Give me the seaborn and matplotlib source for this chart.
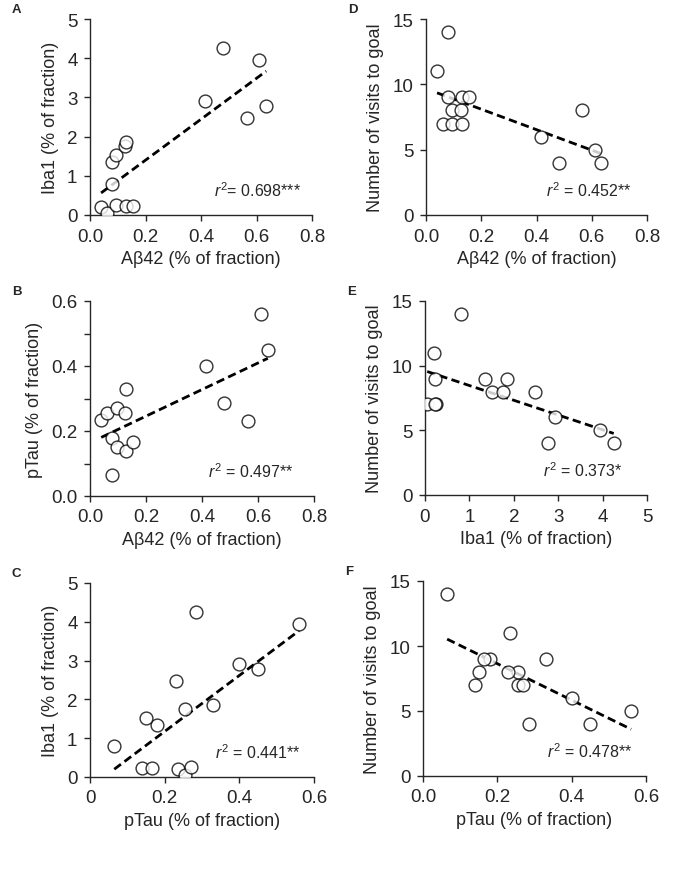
import numpy as np
import pandas as pd
import matplotlib
matplotlib.use("Agg")
import matplotlib.pyplot as plt
import seaborn as sns

# per-animal values (15 animals)
abeta42 = [0.040, 0.060, 0.080, 0.080, 0.095, 0.095, 0.125, 0.130, 0.130, 0.155,
           0.415, 0.480, 0.565, 0.610, 0.635]
iba1 = [0.20, 0.05, 0.80, 1.35, 1.52, 0.25, 1.76, 1.85, 0.23, 0.23,
        2.92, 4.25, 2.47, 3.95, 2.78]
ptau = [0.235, 0.255, 0.065, 0.180, 0.150, 0.270, 0.255, 0.330, 0.140, 0.165,
        0.400, 0.285, 0.230, 0.560, 0.450]
visits = [11, 7, 14, 9, 8, 7, 8, 9, 7, 9,
          6, 4, 8, 5, 4]

r2_labels = ["0.698***", "0.497**", "0.441**", "0.452**", "0.373*", "0.478**"]

df = pd.DataFrame({"abeta": abeta42, "iba1": iba1, "ptau": ptau, "visits": visits})

sns.set_style("ticks")
plt.rcParams["font.family"] = ["Liberation Sans", "DejaVu Sans"]
plt.rcParams["mathtext.fontset"] = "custom"
plt.rcParams["mathtext.rm"] = "Liberation Sans"
plt.rcParams["mathtext.it"] = "Liberation Sans:italic"

fig = plt.figure(figsize=(6.79, 8.70), dpi=100)
W, H = 679, 870


def add_ax(l, t, r, b):
    return fig.add_axes([l / W, 1 - b / H, (r - l) / W, (b - t) / H])


panels = [
    # letter, x, y, box(l,t,r,b), xlim, xticks, xlabels, ylim, yticks, ylabels, xlabel, ylabel, r2, r2 x
    ("A", "abeta", "iba1", (90, 20, 312, 216), (0, 0.8), np.arange(0, 0.81, 0.2),
     ["0.0", "0.2", "0.4", "0.6", "0.8"], (0, 5), np.arange(0, 6, 1), None,
     "Aβ42 (% of fraction)", "Iba1 (% of fraction)", "$r^2$= " + r2_labels[0], 0.95),
    ("B", "abeta", "ptau", (90, 302, 314, 497), (0, 0.8), np.arange(0, 0.81, 0.2),
     ["0.0", "0.2", "0.4", "0.6", "0.8"], (0, 0.6), np.arange(0, 0.61, 0.1),
     ["0.0", "", "0.2", "", "0.4", "", "0.6"],
     "Aβ42 (% of fraction)", "pTau (% of fraction)", "$r^2$ = " + r2_labels[1], 0.91),
    ("C", "ptau", "iba1", (90, 584, 314, 778), (0, 0.6), np.arange(0, 0.61, 0.2),
     ["0", "0.2", "0.4", "0.6"], (0, 5), np.arange(0, 6, 1), None,
     "pTau (% of fraction)", "Iba1 (% of fraction)", "$r^2$ = " + r2_labels[2], 0.94),
    ("D", "abeta", "visits", (426, 20, 647, 216), (0, 0.8), np.arange(0, 0.81, 0.2),
     ["0.0", "0.2", "0.4", "0.6", "0.8"], (0, 15), np.arange(0, 16, 5), None,
     "Aβ42 (% of fraction)", "Number of visits to goal", "$r^2$ = " + r2_labels[3], 0.93),
    ("E", "iba1", "visits", (425, 302, 647, 496), (0, 5), np.arange(0, 6, 1),
     ["0", "1", "2", "3", "4", "5"], (0, 15), np.arange(0, 16, 5), None,
     "Iba1 (% of fraction)", "Number of visits to goal", "$r^2$ = " + r2_labels[4], 0.89),
    ("F", "ptau", "visits", (423, 582, 646, 777), (0, 0.6), np.arange(0, 0.61, 0.2),
     ["0.0", "0.2", "0.4", "0.6"], (0, 15), np.arange(0, 16, 5), None,
     "pTau (% of fraction)", "Number of visits to goal", "$r^2$ = " + r2_labels[5], 0.94),
]

for (letter, xcol, ycol, box, xlim, xticks, xlabs, ylim, yticks, ylabs,
     xlabel, ylabel, r2, r2x) in panels:
    ax = add_ax(*box)
    sns.regplot(data=df, x=xcol, y=ycol, ax=ax, ci=None, truncate=True,
                scatter_kws=dict(s=85, facecolor="white", edgecolor="black",
                                 linewidths=1.0, zorder=3),
                line_kws=dict(color="black", lw=2.0, dashes=(3, 1.6), zorder=2))
    ax.set_xlim(xlim)
    ax.set_ylim(ylim)
    ax.set_xticks(xticks)
    ax.set_xticklabels(xlabs)
    ax.set_yticks(yticks)
    if ylabs is not None:
        ax.set_yticklabels(ylabs)
    else:
        ax.set_yticklabels([f"{v:g}" for v in yticks])
    ax.set_xlabel(xlabel, fontsize=13, labelpad=4)
    ax.set_ylabel(ylabel, fontsize=13, labelpad=6)
    ax.tick_params(labelsize=13.5, length=4, width=1, direction="out", pad=5)
    for s in ["left", "bottom"]:
        ax.spines[s].set_linewidth(1.0)
    sns.despine(ax=ax)
    ax.text(r2x, 0.13, r2, transform=ax.transAxes, ha="right", va="center",
            fontsize=11.5)
    fig.text((box[0] - 78) / W, 1 - (box[1] - 10) / H, letter,
             fontsize=9.5, fontweight="bold", ha="left", va="center")

fig.savefig("out.png", dpi=100, facecolor="white")
